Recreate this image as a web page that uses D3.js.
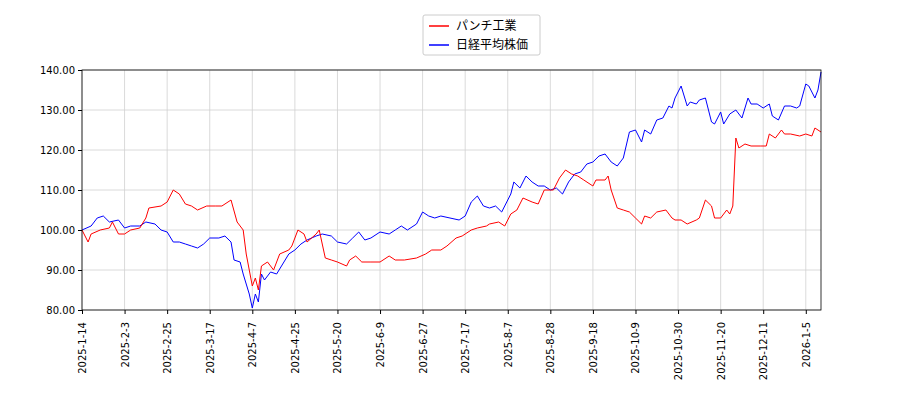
<!DOCTYPE html>
<html><head><meta charset="utf-8">
<script src="https://cdn.jsdelivr.net/npm/d3@7"></script>
<style>body{margin:0;background:#fff}svg{font-family:"DejaVu Sans",sans-serif}</style>
</head><body><svg id="c" width="900" height="400"></svg>
<script>
var tickLabels = ["2025-1-14","2025-2-3","2025-2-25","2025-3-17","2025-4-7","2025-4-25","2025-5-20","2025-6-9","2025-6-27","2025-7-17","2025-8-7","2025-8-28","2025-9-18","2025-10-9","2025-10-30","2025-11-20","2025-12-11","2026-1-5"];
var yTicks = [80,90,100,110,120,130,140];
// trading-day offsets and values
var punchDays = [0,2,3,6,9,10,12,14,16,19,21,22,26,28,30,32,34,36,38,41,44,46,49,51,53,54,56,57,58,59,61,63,65,68,69,71,73,74,77,78,80,82,84,87,88,90,92,95,98,101,103,106,110,113,115,118,120,123,125,128,130,133,134,137,139,141,143,145,148,150,152,155,157,159,161,163,165,168,169,172,173,174,176,178,180,182,184,185,187,189,192,194,195,197,199,202,203,205,207,208,210,212,213,214,215,216,218,220,223,225,226,228,230,231,233,236,238,240,241,243];
var punchVals = [100,97,99,100,100.5,102,99,99,100,100.5,103,105.5,106,107,110,109,106.5,106,105,106,106,106,107.5,102,100,94,86,88,85,91,92,90,94,95,96,100,99,97,99,100,93,92.5,92,91,92.5,93.5,92,92,92,93.5,92.5,92.5,93,94,95,95,96,98,98.5,100,100.5,101,101.5,102,101,104,105,108,107,106.5,110,110,113,115,114,113.5,112.5,111,112.5,112.5,113.5,110,105.5,105,104.5,103,101.5,103.5,103,104.5,105,103,102.5,102.5,101.5,102.5,103,107.5,106,103,103,105,104,106,123,120.5,121.5,121,121,121,124,123,125,124,124,123.5,124,123.5,125.5,124.5];
var nikkeiDays = [0,3,5,7,9,12,14,16,19,21,24,26,28,30,32,34,36,38,40,42,45,47,49,50,52,53,55,56,57,58,59,60,62,64,66,68,70,72,74,77,79,82,84,87,89,91,93,95,98,101,103,105,107,110,112,114,116,118,121,124,126,128,130,132,134,136,138,139,141,142,144,146,148,150,152,154,156,158,160,162,164,166,168,170,172,174,176,178,180,182,184,185,187,189,191,193,194,195,197,199,200,202,203,205,207,208,210,211,213,215,217,219,220,222,224,226,227,229,231,233,235,236,238,239,241,242,243];
var nikkeiVals = [100,101,103,103.5,102,102.5,100.5,101,101,102,101.5,100,99.5,97,97,96.5,96,95.5,96.5,98,98,98.5,97,92.5,92,89,84,80.5,84,82,89,87.5,89.5,89,91.5,94,95,96.5,97.5,98.5,99,98.5,97,96.5,98,99.5,97.5,98,99.5,99,100,101,100,101.5,104.5,103.5,103,103.5,103,102.5,103.5,107,108.5,106,105.5,106,104.5,106,109,112,110.5,113.5,112,111,111,110,110.5,109,112,114,114.5,116.5,117,118.5,119,117,116,118,124.5,125,122,125,124,127.5,128,131,130.5,133,136,131,132,131.5,132.5,133,127,126.5,129.5,126.5,129,130,128,133,131.5,131.5,130.5,131.5,128.5,127.5,131,131,130.5,131,136.5,136,133,135,139.5];

var svg = d3.select("#c");
var x = d3.scaleLinear().domain([0,243]).range([82,821]);
var y = d3.scaleLinear().domain([80,140]).range([310,70]);

var grid = svg.append("g");
tickLabels.forEach(function (t, i) {
  grid.append("line").attr("x1", x(i*14)).attr("x2", x(i*14)).attr("y1", 70).attr("y2", 310).attr("stroke", "#d0d0d0").attr("stroke-width", 0.8);
});
yTicks.forEach(function (v) {
  grid.append("line").attr("x1", 82).attr("x2", 821).attr("y1", y(v)).attr("y2", y(v)).attr("stroke", "#d0d0d0").attr("stroke-width", 0.8);
});

var line = d3.line().x(function (d) { return x(d[0]); }).y(function (d) { return y(d[1]); });
svg.append("path").datum(d3.zip(nikkeiDays, nikkeiVals)).attr("d", line).attr("fill", "none").attr("stroke", "#0000ff").attr("stroke-width", 1);
svg.append("path").datum(d3.zip(punchDays, punchVals)).attr("d", line).attr("fill", "none").attr("stroke", "#ff0000").attr("stroke-width", 1);

svg.append("rect").attr("x", 82).attr("y", 70).attr("width", 739).attr("height", 240).attr("fill", "none").attr("stroke", "#000").attr("stroke-width", 0.8);

var ya = svg.append("g").attr("transform", "translate(82,0)")
  .call(d3.axisLeft(y).tickValues(yTicks).tickFormat(d3.format(".2f")).tickSize(4).tickSizeOuter(0));
ya.select(".domain").remove();
ya.selectAll("text").attr("font-size", 10).attr("fill", "#000").attr("font-family", "DejaVu Sans");

var xa = svg.append("g").attr("transform", "translate(0,310)")
  .call(d3.axisBottom(x).tickValues(tickLabels.map(function (t, i) { return i*14; }))
    .tickFormat(function (d) { return tickLabels[d/14]; }).tickSize(4).tickSizeOuter(0));
xa.select(".domain").remove();
xa.selectAll("text").attr("font-size", 10).attr("fill", "#000").attr("font-family", "DejaVu Sans")
  .attr("text-anchor", "end").attr("dx", "-0.5em").attr("dy", "0.35em").attr("x", 0).attr("y", 0)
  .attr("transform", "translate(0,7) rotate(-90)");

var lg = svg.append("g").attr("transform", "translate(423,15)");
lg.append("rect").attr("width", 117).attr("height", 40).attr("fill", "#fff").attr("stroke", "#ccc").attr("rx", 2);
[["パンチ工業", "#ff0000"], ["日経平均株価", "#0000ff"]].forEach(function (s, i) {
  lg.append("line").attr("x1", 6).attr("x2", 26).attr("y1", 11 + i*19).attr("y2", 11 + i*19).attr("stroke", s[1]).attr("stroke-width", 1.5);
  lg.append("text").attr("x", 33).attr("y", 15 + i*19).attr("font-size", 12).attr("font-family", "Noto Sans CJK JP").text(s[0]);
});
</script></body></html>
